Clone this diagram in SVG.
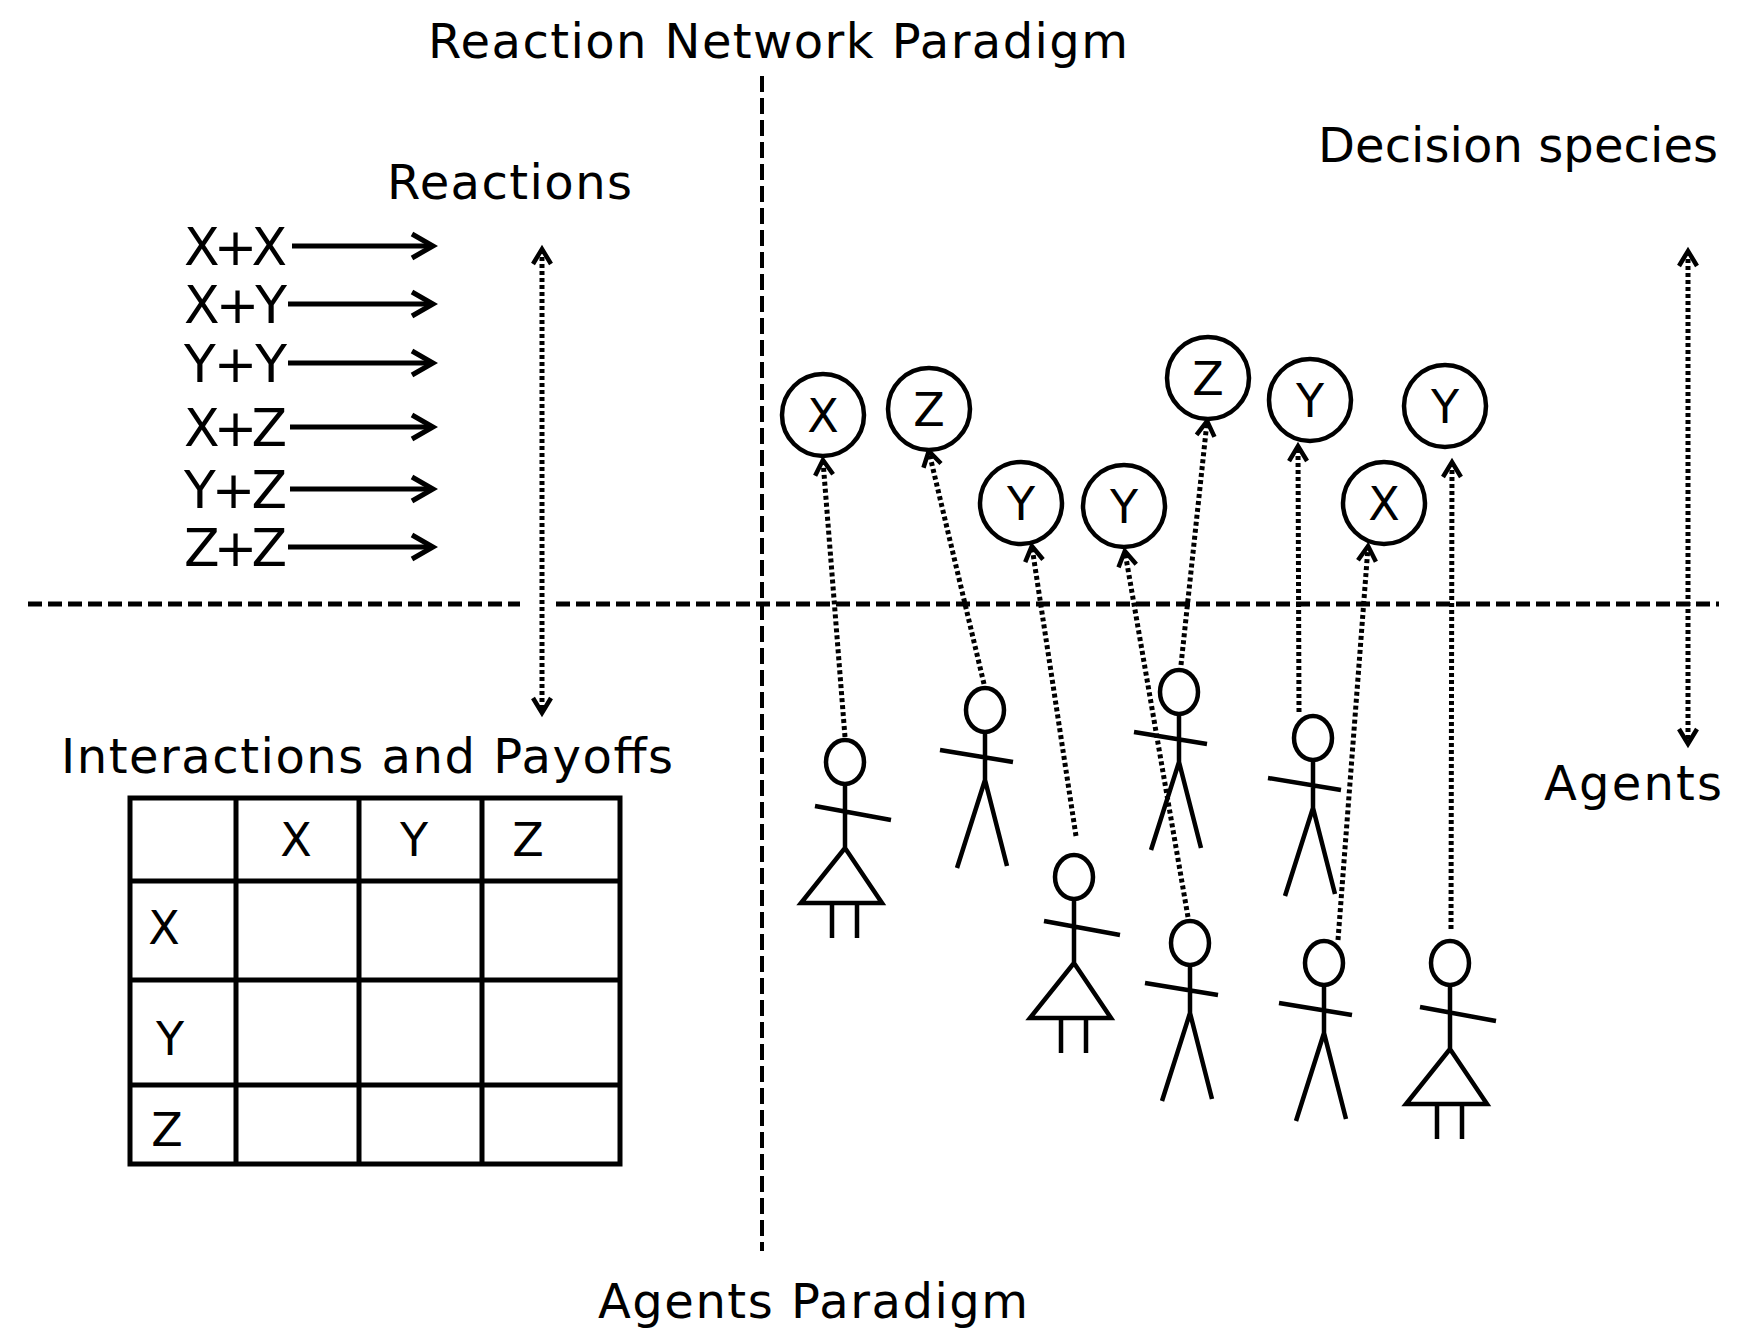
<svg xmlns="http://www.w3.org/2000/svg" width="1741" height="1343" viewBox="0 0 1741 1343">
<style>
text{font-family:"DejaVu Sans","Liberation Sans",sans-serif;fill:#000}
.t{font-size:48px}
.r{font-size:52px}
.c{font-size:46px;text-anchor:middle}
.ln{stroke:#000;fill:none;stroke-width:5}
.dot{stroke:#000;fill:none;stroke-width:5;stroke-dasharray:4 3}
.fig{stroke:#000;fill:none;stroke-width:4.5}
.circ{stroke:#000;fill:#fff;stroke-width:4.5}
</style>
<defs>
<marker id="ah" markerWidth="24" markerHeight="24" refX="16" refY="12" orient="auto-start-reverse" markerUnits="userSpaceOnUse">
<path d="M2,3 L17,12 L2,21" fill="none" stroke="#000" stroke-width="4.5" stroke-dasharray="none"/>
</marker>
<marker id="ah2" markerWidth="30" markerHeight="30" refX="24" refY="15" orient="auto" markerUnits="userSpaceOnUse">
<path d="M4,3 L25,15 L4,27" fill="none" stroke="#000" stroke-width="5"/>
</marker>
<g id="male" class="fig"><ellipse cx="0" cy="0" rx="19" ry="22"/><path d="M0,22 L0,70 M-28,158 L0,70 L22,156 M-45,40 L28,52"/></g>
<g id="female" class="fig"><ellipse cx="0" cy="0" rx="19" ry="22"/><path d="M0,22 L0,86 M-30,44 L46,58 M0,86 L-44,141 L37,141 Z M-13,141 V176 M12,141 V176"/></g>
</defs>
<rect width="1741" height="1343" fill="#fff"/>
<g id="labels">
<text class="t" x="428" y="58" textLength="700">Reaction Network Paradigm</text>
<text class="t" x="387" y="199" textLength="245">Reactions</text>
<text class="t" x="1318" y="162" textLength="400">Decision species</text>
<text class="t" x="61" y="773" textLength="612">Interactions and Payoffs</text>
<text class="t" x="1544" y="800" textLength="178">Agents</text>
<text class="t" x="598" y="1318" textLength="430">Agents Paradigm</text>
</g>
<g id="reactions">
<text class="r" x="184" y="265" textLength="103">X+X</text>
<text class="r" x="184" y="323" textLength="103">X+Y</text>
<text class="r" x="184" y="382" textLength="103">Y+Y</text>
<text class="r" x="184" y="446" textLength="103">X+Z</text>
<text class="r" x="184" y="508" textLength="103">Y+Z</text>
<text class="r" x="184" y="566" textLength="103">Z+Z</text>
<path class="ln" marker-end="url(#ah2)" d="M292,246 H432"/>
<path class="ln" marker-end="url(#ah2)" d="M288,304 H432"/>
<path class="ln" marker-end="url(#ah2)" d="M288,363 H432"/>
<path class="ln" marker-end="url(#ah2)" d="M290,427 H432"/>
<path class="ln" marker-end="url(#ah2)" d="M290,489 H432"/>
<path class="ln" marker-end="url(#ah2)" d="M288,547 H432"/>
</g>
<g id="table" class="ln">
<rect x="130" y="798" width="490" height="366"/>
<path d="M236,798 V1164 M359,798 V1164 M482,798 V1164 M130,881 H620 M130,980 H620 M130,1085 H620"/>
</g>
<g id="table-labels">
<text class="c" x="296" y="856">X</text>
<text class="c" x="414" y="856">Y</text>
<text class="c" x="528" y="856">Z</text>
<text class="c" x="164" y="944">X</text>
<text class="c" x="170" y="1055">Y</text>
<text class="c" x="167" y="1146">Z</text>
</g>
<g id="axes">
<path d="M762,76 V1251" stroke="#000" stroke-width="4" stroke-dasharray="16 6"/>
<path d="M28,604 H520 M556,604 H1719" stroke="#000" stroke-width="5" stroke-dasharray="14 6"/>
</g>
<g id="connectors">
<path class="dot" marker-start="url(#ah)" marker-end="url(#ah)" d="M542,250 V712"/>
<path class="dot" marker-start="url(#ah)" marker-end="url(#ah)" d="M1688,252 V743"/>
<path class="dot" marker-end="url(#ah)" d="M845,737 L823,461"/>
<path class="dot" marker-end="url(#ah)" d="M984,684 L929,452"/>
<path class="dot" marker-end="url(#ah)" d="M1076,836 L1032,547"/>
<path class="dot" marker-end="url(#ah)" d="M1188,917 L1125,552"/>
<path class="dot" marker-end="url(#ah)" d="M1181,665 L1207,422"/>
<path class="dot" marker-end="url(#ah)" d="M1299,712 L1298,447"/>
<path class="dot" marker-end="url(#ah)" d="M1338,940 L1368,547"/>
<path class="dot" marker-end="url(#ah)" d="M1451,929 L1452,463"/>
</g>
<g id="sX1"><circle class="circ" cx="823" cy="415" r="41"/><text class="c" x="823" y="432">X</text></g>
<g id="sZ1"><circle class="circ" cx="929" cy="409" r="41"/><text class="c" x="929" y="426">Z</text></g>
<g id="sY1"><circle class="circ" cx="1021" cy="503" r="41"/><text class="c" x="1021" y="520">Y</text></g>
<g id="sY2"><circle class="circ" cx="1124" cy="506" r="41"/><text class="c" x="1124" y="523">Y</text></g>
<g id="sZ2"><circle class="circ" cx="1208" cy="378" r="41"/><text class="c" x="1208" y="395">Z</text></g>
<g id="sY3"><circle class="circ" cx="1310" cy="400" r="41"/><text class="c" x="1310" y="417">Y</text></g>
<g id="sX2"><circle class="circ" cx="1384" cy="503" r="41"/><text class="c" x="1384" y="520">X</text></g>
<g id="sY4"><circle class="circ" cx="1445" cy="406" r="41"/><text class="c" x="1445" y="423">Y</text></g>
<g id="agent1"><use href="#female" x="845" y="762"/></g>
<g id="agent2"><use href="#male" x="985" y="710"/></g>
<g id="agent3"><use href="#female" x="1074" y="877"/></g>
<g id="agent4"><use href="#male" x="1179" y="692"/></g>
<g id="agent5"><use href="#male" x="1313" y="738"/></g>
<g id="agent6"><use href="#male" x="1190" y="943"/></g>
<g id="agent7"><use href="#male" x="1324" y="963"/></g>
<g id="agent8"><use href="#female" x="1450" y="963"/></g>
</svg>
